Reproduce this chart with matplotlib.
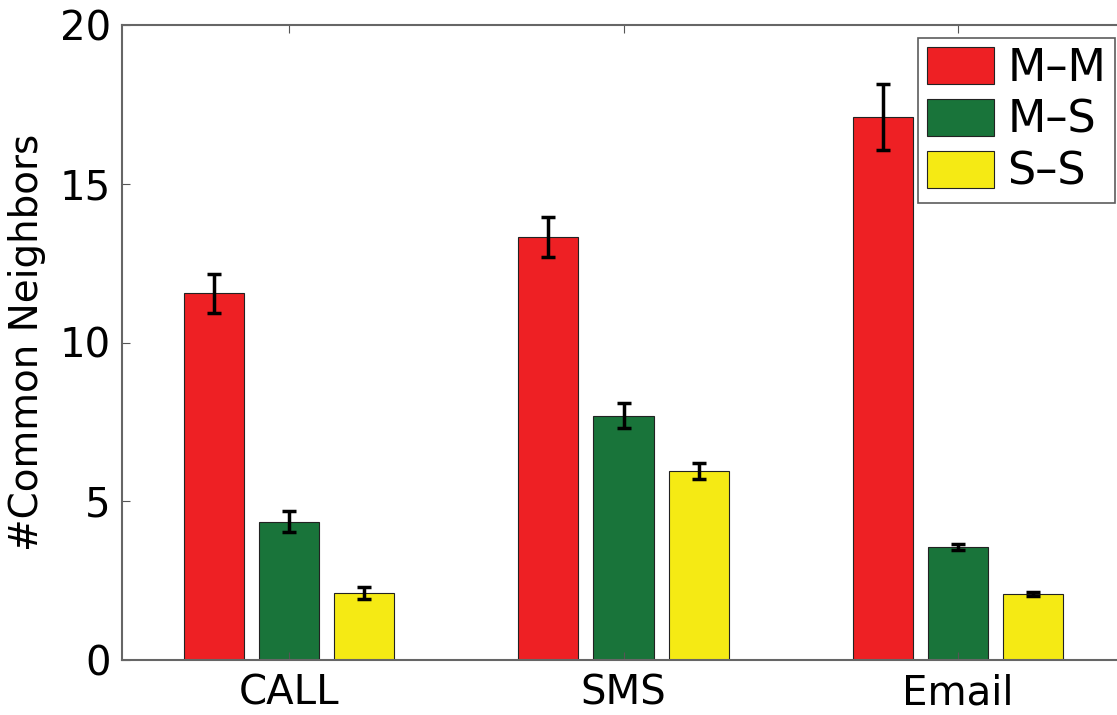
import matplotlib.pyplot as plt
import numpy as np

# data
categories = ["CALL", "SMS", "Email"]
series = ["M\u2013M", "M\u2013S", "S\u2013S"]
means = {
    "M\u2013M": [11.55, 13.32, 17.1],
    "M\u2013S": [4.36, 7.7, 3.56],
    "S\u2013S": [2.11, 5.95, 2.08],
}
errors = {
    "M\u2013M": [0.62, 0.62, 1.05],
    "M\u2013S": [0.32, 0.4, 0.1],
    "S\u2013S": [0.19, 0.24, 0.05],
}
colors = ["#ee2024", "#19743a", "#f5ea14"]

plt.rcParams["font.family"] = ["DejaVu Sans"]

fig = plt.figure(figsize=(11.17, 7.15), dpi=100)
ax = fig.add_axes([122 / 1117, 55 / 715, 1003 / 1117, 635 / 715])

x = np.arange(1, len(categories) + 1)
width = 0.18
offset = 0.225
for i, (name, color) in enumerate(zip(series, colors)):
    ax.bar(x + (i - 1) * offset, means[name], width, color=color,
           edgecolor="#222222", linewidth=0.8, label=name,
           yerr=errors[name], capsize=5,
           error_kw=dict(ecolor="black", elinewidth=2.5, capthick=2.5))

ax.set_xlim(0.5, 3.5)
ax.set_ylim(0, 20)
ax.set_yticks([0, 5, 10, 15, 20])
ax.set_xticks(x)
ax.set_xticklabels(categories)
ax.tick_params(direction="in", top=True, right=True, labelsize=29,
               length=6, color="#555555")
ax.tick_params(axis="x", pad=10)
ax.tick_params(axis="y", pad=8)
ax.set_ylabel("#Common Neighbors", fontsize=28, labelpad=10)
for s in ax.spines.values():
    s.set_color("#666666")
    s.set_linewidth(1.5)

leg = ax.legend(loc="upper right", bbox_to_anchor=(993 / 1003, 622 / 635),
                fontsize=32, frameon=True, fancybox=False,
                handlelength=1.5, handleheight=0.9, handletextpad=0.3,
                labelspacing=0.2, borderpad=0.2, borderaxespad=0)
leg.get_frame().set_edgecolor("#333333")
leg.get_frame().set_linewidth(1.2)

fig.savefig("out.png", dpi=100)
